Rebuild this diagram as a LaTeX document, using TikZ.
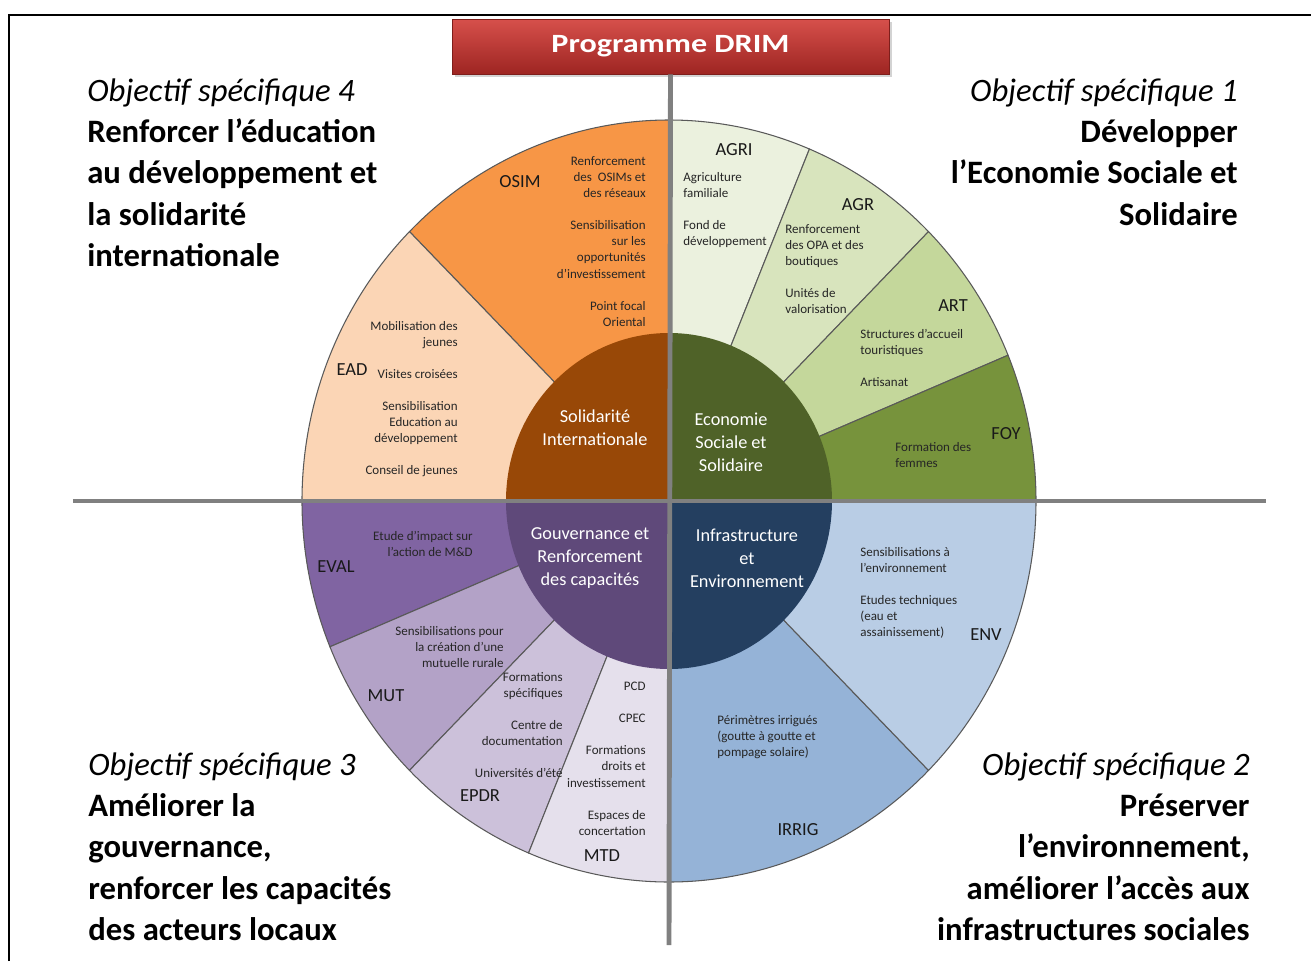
\documentclass[tikz,border=0pt]{standalone}
\usepackage{fontspec}
\setmainfont{Carlito}
\usetikzlibrary{shadows}
\definecolor{osimc}{HTML}{F79646}
\definecolor{eadc}{HTML}{FBD5B5}
\definecolor{agric}{HTML}{EBF1DE}
\definecolor{agrc}{HTML}{D8E4BD}
\definecolor{artc}{HTML}{C4D79B}
\definecolor{foyc}{HTML}{77933C}
\definecolor{evalc}{HTML}{8064A2}
\definecolor{mutc}{HTML}{B3A2C7}
\definecolor{epdrc}{HTML}{CCC1DA}
\definecolor{mtdc}{HTML}{E5E0EC}
\definecolor{envc}{HTML}{B9CDE5}
\definecolor{irrigc}{HTML}{95B3D7}
\definecolor{solic}{HTML}{984807}
\definecolor{ecoc}{HTML}{4F6228}
\definecolor{gouvc}{HTML}{5F497A}
\definecolor{infrac}{HTML}{243F60}
\definecolor{rimgray}{HTML}{595959}
\definecolor{crossgray}{HTML}{808080}
\definecolor{itemtext}{HTML}{262626}
\definecolor{titletop}{HTML}{D6504B}
\definecolor{titlebot}{HTML}{9E2522}
\newcommand\cornerfont{\fontsize{18.6}{23.6}\selectfont}
\newcommand\hubfont{\fontsize{10.4}{13}\selectfont}
\newcommand\codefont{\fontsize{10.5}{12}\selectfont}
\newcommand\itemfont{\fontsize{7.4}{9.2}\selectfont}
\newcommand\titlefont{\fontsize{15}{18}\selectfont}
\def\ringpart#1#2#3{\filldraw[fill=#3,draw=rimgray,line width=0.6pt] (0,0) -- (#1:367 and 381) arc[start angle=#1,end angle=#2,x radius=367,y radius=381] -- cycle;}
\def\hubpart#1#2#3{\fill[#3] (0,0) -- (#1:163 and 168) arc[start angle=#1,end angle=#2,x radius=163,y radius=168] -- cycle;}

\begin{document}
\begin{tikzpicture}[x=0.02cm,y=0.02cm,
  item/.style={font=\itemfont,inner sep=0pt,text=itemtext},
  code/.style={font=\codefont,inner sep=0pt,text=black!90},
  hub/.style={font=\hubfont,inner sep=0pt,text=white,align=center},
  corner/.style={font=\cornerfont\bfseries,inner sep=0pt},
  cross/.style={draw=crossgray,line width=2.8pt},
  titlebox/.style={minimum width=8.74cm,minimum height=1.1cm,inner sep=0pt,
    top color=titletop,bottom color=titlebot,draw=titlebot!80!black,
    drop shadow={shadow xshift=1.5pt,shadow yshift=-1.5pt,opacity=0.35},
    text=white,font=\titlefont\bfseries}]
\useasboundingbox (-669,-460) rectangle (642,501);
% frame
\draw[line width=1.4pt] (-660,-460) -- (-660,486) -- (642,486);
% outer ring
\ringpart{90}{135}{osimc}
\ringpart{135}{180}{eadc}
\ringpart{67.5}{90}{agric}
\ringpart{45}{67.5}{agrc}
\ringpart{22.5}{45}{artc}
\ringpart{0}{22.5}{foyc}
\ringpart{180}{202.5}{evalc}
\ringpart{202.5}{225}{mutc}
\ringpart{225}{247.5}{epdrc}
\ringpart{247.5}{270}{mtdc}
\ringpart{270}{315}{irrigc}
\ringpart{315}{360}{envc}
% hub
\hubpart{90}{180}{solic}
\hubpart{0}{90}{ecoc}
\hubpart{180}{270}{gouvc}
\hubpart{270}{360}{infrac}
% title and axes
\node[titlebox] (titre) at (1.5,454.5) {\scalebox{1.22}[1]{Programme DRIM}};
\coordinate (hg) at (-596,0);
\coordinate (hd) at (597,0);
\coordinate (vbas) at (0,-444);
\draw[cross] (hg) -- (hd);
\draw[cross] (titre.south) -- (vbas);
% hub labels
\node[hub] (soli) at (-74,73) {Solidarité\\Internationale};
\node[hub] (eco) at (62,59) {Economie\\Sociale et\\Solidaire};
\node[hub] (gouv) at (-79,-57) {Gouvernance et\\Renforcement\\des capacités};
\node[hub] (infra) at (78,-57) {Infrastructure\\et\\Environnement};
% codes
\node[code] (osim) at (-149,319) {OSIM};
\node[code] (ead) at (-317,131) {EAD};
\node[code] (agri) at (65,351) {AGRI};
\node[code] (agr) at (189,296) {AGR};
\node[code] (art) at (284,195) {ART};
\node[code] (foy) at (337,67) {FOY};
\node[code] (eval) at (-333,-66) {EVAL};
\node[code] (mut) at (-283,-195) {MUT};
\node[code] (epdr) at (-189,-295) {EPDR};
\node[code] (mtd) at (-67,-355) {MTD};
\node[code] (env) at (317,-134) {ENV};
\node[code] (irrig) at (129,-329) {IRRIG};
% actions
\node[item,anchor=north east,align=right] (osimtxt) at (-23,345) {Renforcement\\des~ OSIMs et\\des réseaux\\[9pt]Sensibilisation\\sur les\\opportunités\\d’investissement\\[9pt]Point focal\\Oriental};
\node[item,anchor=north east,align=right] (eadtxt) at (-211,180) {Mobilisation des\\jeunes\\[9pt]Visites croisées\\[9pt]Sensibilisation\\Education au\\développement\\[9pt]Conseil de jeunes};
\node[item,anchor=north west,align=left] (agritxt) at (14,329) {Agriculture\\familiale\\[9pt]Fond de\\développement};
\node[item,anchor=north west,align=left] (agrtxt) at (116,277) {Renforcement\\des OPA et des\\boutiques\\[9pt]Unités de\\valorisation};
\node[item,anchor=north west,align=left] (arttxt) at (191,172) {Structures d’accueil\\touristiques\\[9pt]Artisanat};
\node[item,anchor=north west,align=left] (foytxt) at (226,59) {Formation des\\femmes};
\node[item,anchor=north east,align=right] (evaltxt) at (-196,-30) {Etude d’impact sur\\l’action de M\&D};
\node[item,anchor=north east,align=right] (muttxt) at (-165,-125) {Sensibilisations pour\\la création d’une\\mutuelle rurale};
\node[item,anchor=north east,align=right] (epdrtxt) at (-106,-171) {Formations\\spécifiques\\[9pt]Centre de\\documentation\\[9pt]Universités d’été};
\node[item,anchor=north east,align=right] (mtdtxt) at (-23,-181) {PCD\\[9pt]CPEC\\[9pt]Formations\\droits et\\investissement\\[9pt]Espaces de\\concertation};
\node[item,anchor=north west,align=left] (envtxt) at (191,-46) {Sensibilisations à\\l’environnement\\[9pt]Etudes techniques\\(eau et\\assainissement)};
\node[item,anchor=north west,align=left] (irrigtxt) at (48,-214) {Périmètres irrigués\\(goutte à goutte et\\pompage solaire)};
% objectives
\node[corner,anchor=north west,align=left] (os4) at (-582,423) {{\mdseries\itshape Objectif spécifique 4}\\Renforcer l’éducation\\au développement et\\la solidarité\\internationale};
\node[corner,anchor=north east,align=right] (os1) at (569,423) {{\mdseries\itshape Objectif spécifique 1}\\Développer\\l’Economie Sociale et\\Solidaire};
\node[corner,anchor=north west,align=left] (os3) at (-581,-251) {{\mdseries\itshape Objectif spécifique 3}\\Améliorer la\\gouvernance,\\renforcer les capacités\\des acteurs locaux};
\node[corner,anchor=north east,align=right] (os2) at (581,-251) {{\mdseries\itshape Objectif spécifique 2}\\Préserver\\l’environnement,\\améliorer l’accès aux\\infrastructures sociales};
\end{tikzpicture}
\end{document}
